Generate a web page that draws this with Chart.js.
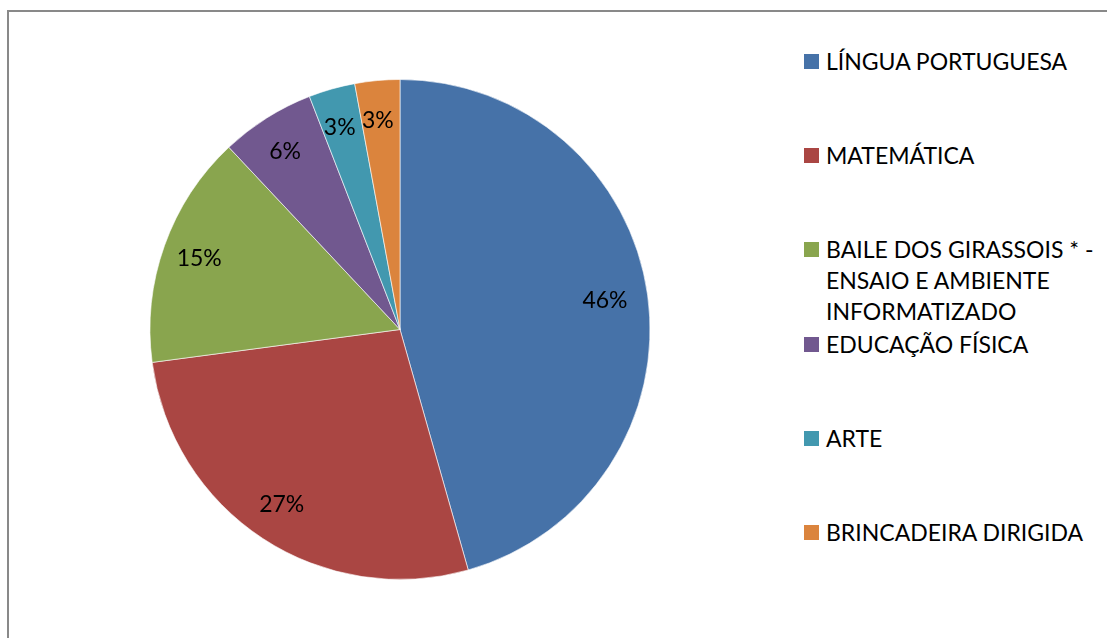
<!DOCTYPE html>
<html>
<head>
<meta charset="utf-8">
<script src="https://cdn.jsdelivr.net/npm/chart.js@4"></script>
<style>
  html, body { margin: 0; padding: 0; background: #fff; }
  body { width: 1107px; height: 638px; position: relative; overflow: hidden; font-family: Lato, "Open Sans", sans-serif; }
  #frame { position: absolute; left: 7px; top: 10px; width: 1120px; height: 660px; border-top: 2px solid #898989; border-left: 2px solid #898989; }
  #wrap { position: absolute; left: 0; top: 79px; width: 800px; height: 501px; }
  #legend { position: absolute; left: 804px; top: 0; }
  .item { position: absolute; left: 0; white-space: nowrap; font-size: 23px; line-height: 31px; color: #000; }
  .box { position: absolute; left: 0; top: 8px; width: 15px; height: 15px; }
  .txt { position: absolute; left: 22px; top: 0; }
</style>
</head>
<body>
<div id="frame"></div>
<div id="wrap"><canvas id="myChart" width="800" height="501"></canvas></div>
<div id="legend"></div>
<script>
'use strict'

const categories = [
  'LÍNGUA PORTUGUESA',
  'MATEMÁTICA',
  ['BAILE DOS GIRASSOIS * -', 'ENSAIO E AMBIENTE', 'INFORMATIZADO'],
  'EDUCAÇÃO FÍSICA',
  'ARTE',
  'BRINCADEIRA DIRIGIDA'
];
// shares in percent
const values = [45.6, 27.3, 15.1, 6.1, 3.0, 2.9];
const colors = ['#4672A8', '#AA4643', '#89A54E', '#71588F', '#4298AF', '#DB843D'];

const total = values.reduce((a, b) => a + b, 0);

// percent labels drawn inside each slice
const sliceLabels = {
  id: 'sliceLabels',
  afterDatasetsDraw(chart) {
    const ctx = chart.ctx;
    const meta = chart.getDatasetMeta(0);
    ctx.save();
    ctx.font = '23px Lato, "Open Sans", sans-serif';
    ctx.fillStyle = '#000';
    ctx.textAlign = 'center';
    ctx.textBaseline = 'middle';
    meta.data.forEach((arc, i) => {
      const p = arc.getProps(['x', 'y', 'startAngle', 'endAngle', 'outerRadius']);
      const mid = (p.startAngle + p.endAngle) / 2;
      const r = p.outerRadius * 0.84;
      const pct = Math.round(values[i] / total * 100) + '%';
      ctx.fillText(pct, p.x + Math.cos(mid) * r - 3, p.y + Math.sin(mid) * r);
    });
    ctx.restore();
  }
};

const ctx = document.getElementById('myChart');

const myChart = new Chart(ctx, {
  type: 'pie',
  data: {
    labels: categories,
    datasets: [{
      data: values,
      backgroundColor: colors,
      borderColor: 'rgba(255,255,255,0.6)',
      borderWidth: 1
    }]
  },
  options: {
    responsive: false,
    animation: false,
    layout: { padding: 0 },
    plugins: {
      legend: { display: false },
      tooltip: { enabled: false }
    }
  },
  plugins: [sliceLabels]
});

// legend on the right
const legend = document.getElementById('legend');
categories.forEach((name, i) => {
  const item = document.createElement('div');
  item.classList.add('item');
  item.style.top = (46 + i * 94.2) + 'px';
  const box = document.createElement('div');
  box.classList.add('box');
  box.style.background = colors[i];
  const txt = document.createElement('div');
  txt.classList.add('txt');
  txt.innerHTML = [].concat(name).join('<br>');
  item.append(box, txt);
  legend.append(item);
});
</script>
</body>
</html>
